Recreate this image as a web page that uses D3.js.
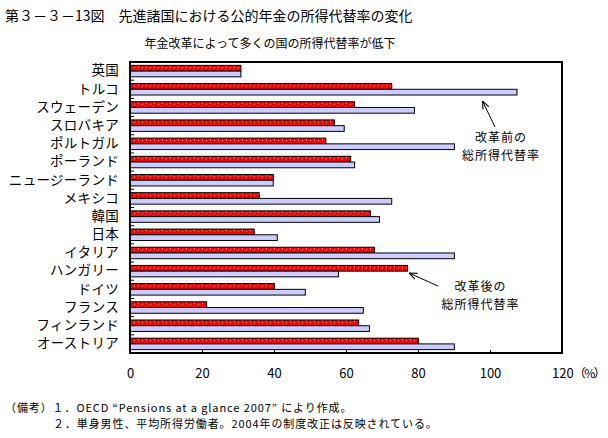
<!DOCTYPE html>
<html>
<head>
<meta charset="utf-8">
<script src="https://cdn.jsdelivr.net/npm/d3@7"></script>
<style>
  body { margin: 0; background: #fff; }
  text { font-family: "Noto Sans CJK JP", "Noto Sans", sans-serif; fill: #000; }
</style>
</head>
<body>
<script>
const categories = ["英国","トルコ","スウェーデン","スロバキア","ポルトガル","ポーランド","ニュージーランド","メキシコ","韓国","日本","イタリア","ハンガリー","ドイツ","フランス","フィンランド","オーストリア"];
const afterReform  = [30.8, 72.7, 62.4, 56.8, 54.4, 61.3, 39.8, 35.9, 66.8, 34.5, 67.9, 77.1, 40.1, 21.3, 63.5, 80.1];
const beforeReform = [30.8, 107.5, 79.0, 59.5, 90.1, 62.4, 39.8, 72.7, 69.3, 40.9, 90.1, 57.9, 48.7, 64.8, 66.5, 90.1];
const xTicks = [0, 20, 40, 60, 80, 100, 120];
const seriesKeys = ["after", "before"];

const W = 608, H = 438;
const margin = { left: 130, right: 46, top: 62, bottom: 85 };

const svg = d3.select("body").append("svg").attr("width", W).attr("height", H);
svg.append("rect").attr("width", W).attr("height", H).attr("fill", "#fff");

// pattern for red bars
const defs = svg.append("defs");
const pat = defs.append("pattern").attr("id", "redDots").attr("patternUnits", "userSpaceOnUse")
  .attr("width", 8).attr("height", 4);
pat.append("rect").attr("width", 8).attr("height", 4).attr("fill", "#ff0000");
pat.append("rect").attr("x", 2).attr("y", 1).attr("width", 1).attr("height", 1).attr("fill", "#ffc8c8");
pat.append("rect").attr("x", 6).attr("y", 2).attr("width", 1).attr("height", 1).attr("fill", "#ffc8c8");

defs.append("marker").attr("id", "arrow").attr("viewBox", "0 0 10 10")
  .attr("refX", 10).attr("refY", 5).attr("markerWidth", 8).attr("markerHeight", 8)
  .attr("markerUnits", "userSpaceOnUse").attr("orient", "auto")
  .append("path").attr("d", "M0,1 L10,5 L0,9").attr("fill", "none").attr("stroke", "#000").attr("stroke-width", 1.4);

// Titles
svg.append("text").attr("x", 5).attr("y", 21).attr("font-size", "14px")
  .text("第３－３－13図　先進諸国における公的年金の所得代替率の変化");
svg.append("text").attr("x", 270).attr("y", 48).attr("font-size", "12px").attr("text-anchor", "middle")
  .text("年金改革によって多くの国の所得代替率が低下");

const x = d3.scaleLinear().domain([0, 120]).range([margin.left, W - margin.right]);
const y = d3.scaleBand().domain(categories).range([margin.top, H - margin.bottom])
  .paddingInner(0.37).paddingOuter(0.185);
const ySub = d3.scaleBand().domain(seriesKeys).range([0, y.bandwidth()]);

const rows = categories.map((c, i) => ({ cat: c, after: afterReform[i], before: beforeReform[i] }));

const g = svg.append("g");
const groups = g.selectAll("g.row").data(rows).join("g")
  .attr("transform", d => `translate(0,${y(d.cat)})`);
groups.selectAll("rect").data(d => seriesKeys.map(k => ({ key: k, value: d[k] }))).join("rect")
  .attr("x", x(0))
  .attr("y", d => ySub(d.key))
  .attr("width", d => x(d.value) - x(0))
  .attr("height", ySub.bandwidth())
  .attr("fill", d => d.key === "after" ? "url(#redDots)" : "#ccccff")
  .attr("stroke", "#000").attr("stroke-width", 1);

// x axis
const xAxis = d3.axisBottom(x).tickValues(xTicks).tickSize(-3).tickPadding(16);
const xg = svg.append("g").attr("transform", `translate(0,${H - margin.bottom})`).call(xAxis);
xg.select(".domain").remove();
xg.selectAll(".tick line").attr("stroke", "#000");
xg.selectAll(".tick text").attr("font-size", "13px").attr("font-family", "\"Noto Sans CJK JP\", sans-serif");
const lastTick = xg.selectAll(".tick").filter(d => d === 120).select("text")
  .attr("text-anchor", "start").attr("dx", "-10.5");
lastTick.append("tspan").attr("font-size", "12px").attr("letter-spacing", "-1.5").text("（%）");

// y axis labels
const yAxis = d3.axisLeft(y).tickSize(0).tickPadding(11);
const yg = svg.append("g").attr("transform", `translate(${margin.left},0)`).call(yAxis);
yg.select(".domain").remove();
yg.selectAll(".tick text").attr("font-size", "13.5px").attr("letter-spacing", "0.3").attr("font-family", "\"Noto Sans CJK JP\", sans-serif");

// y tick marks between categories (inward)
const boundaries = categories.slice(0, -1).map(c => y(c) + y.bandwidth() + (y.step() - y.bandwidth()) / 2);
svg.append("g").selectAll("line").data(boundaries).join("line")
  .attr("x1", x(0)).attr("x2", x(0) + 4)
  .attr("y1", d => d).attr("y2", d => d)
  .attr("stroke", "#000").attr("stroke-width", 1);

// frame
svg.append("rect").attr("x", x(0)).attr("y", margin.top)
  .attr("width", x(120) - x(0)).attr("height", H - margin.bottom - margin.top)
  .attr("fill", "none").attr("stroke", "#000").attr("stroke-width", 2);

// annotations
svg.append("line").attr("x1", 495).attr("y1", 127).attr("x2", 482.5).attr("y2", 101)
  .attr("stroke", "#000").attr("stroke-width", 1).attr("marker-end", "url(#arrow)");
const a1 = svg.append("text").attr("font-size", "12px").attr("letter-spacing", "1").attr("text-anchor", "middle");
a1.append("tspan").attr("x", 501).attr("y", 142).text("改革前の");
a1.append("tspan").attr("x", 501).attr("y", 160).text("総所得代替率");

svg.append("line").attr("x1", 438).attr("y1", 286).attr("x2", 409).attr("y2", 273)
  .attr("stroke", "#000").attr("stroke-width", 1).attr("marker-end", "url(#arrow)");
const a2 = svg.append("text").attr("font-size", "12px").attr("letter-spacing", "1").attr("text-anchor", "middle");
a2.append("tspan").attr("x", 480.5).attr("y", 291).text("改革後の");
a2.append("tspan").attr("x", 480.5).attr("y", 309).text("総所得代替率");

// notes
const notes = svg.append("text").attr("font-size", "11px").attr("letter-spacing", "0.9");
notes.append("tspan").attr("x", 5).attr("y", 412).text("（備考）１．OECD “Pensions at a glance 2007” により作成。");
notes.append("tspan").attr("x", 53).attr("y", 428).text("２．単身男性、平均所得労働者。2004年の制度改正は反映されている。");
</script>
</body>
</html>
